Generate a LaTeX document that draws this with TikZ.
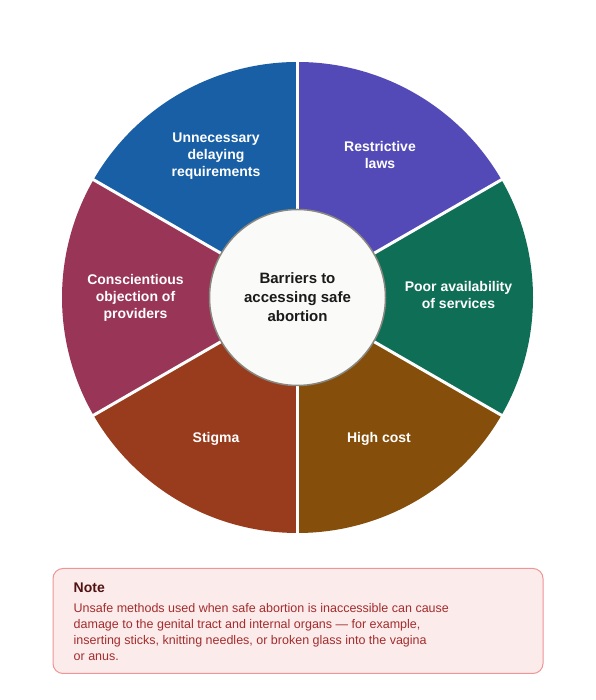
\documentclass[tikz,border=0pt]{standalone}
\usepackage{fontspec}
\setmainfont{Liberation Sans}
\usetikzlibrary{positioning}
\definecolor{lawscol}{HTML}{534AB7}
\definecolor{servicecol}{HTML}{0F6E56}
\definecolor{costcol}{HTML}{854F0B}
\definecolor{stigmacol}{HTML}{993C1D}
\definecolor{objectcol}{HTML}{993556}
\definecolor{delaycol}{HTML}{185FA5}
\definecolor{hubfill}{HTML}{FAFAF8}
\definecolor{hubline}{HTML}{888780}
\definecolor{hubtext}{HTML}{1A1A1A}
\definecolor{notefill}{HTML}{FCEBEB}
\definecolor{noteline}{HTML}{F09595}
\definecolor{notehead}{HTML}{501313}
\definecolor{notetext}{HTML}{A32D2D}

\begin{document}
\begin{tikzpicture}[x=1pt,y=1pt,
    seglabel/.style={text=white,align=center,font=\bfseries\fontsize{14}{17}\selectfont},
    hubcircle/.style={circle,draw=hubline,line width=1.5pt,fill=hubfill,minimum size=176pt,
                      inner sep=0pt,text=hubtext,align=center,font=\bfseries\fontsize{15}{19}\selectfont},
    notebox/.style={draw=noteline,line width=1pt,fill=notefill,rounded corners=10pt,
                    minimum width=490pt,minimum height=105pt,inner sep=0pt}]
  \fill[white] (0,0) rectangle (595,700);
  \useasboundingbox (0,0) rectangle (595,700);
  \coordinate (hub) at (297.5,402.5);

  % wheel segments
  \foreach \a/\c in {30/lawscol,-30/servicecol,-90/costcol,-150/stigmacol,150/objectcol,90/delaycol}
    \fill[\c] (hub) -- ++(\a:235.5) arc[start angle=\a,end angle=\a+60,radius=235.5] -- cycle;
  \foreach \a in {30,90,...,330}
    \draw[white,line width=3pt] (hub) -- ++(\a:237);

  \node[hubcircle] (centre) at (hub) {Barriers to\\accessing safe\\abortion};

  \node[seglabel] (laws) at ([shift={(60:165)}]hub) {Restrictive\\laws};
  \node[seglabel] (services) at ([shift={(1:161)}]hub) {Poor availability\\of services};
  \node[seglabel] (cost) at ([shift={(-60:163)}]hub) {High cost};
  \node[seglabel] (stigma) at ([shift={(-120:163)}]hub) {Stigma};
  \node[seglabel] (objection) at ([shift={(180:162)}]hub) {Conscientious\\objection of\\providers};
  \node[seglabel] (delay) at ([shift={(120:163)}]hub) {Unnecessary\\delaying\\requirements};

  % note
  \node[notebox,anchor=north west] (note) at (52.5,132) {};
  \node[anchor=base west,inner sep=0pt,text=notehead,font=\bfseries\fontsize{14}{17}\selectfont]
    (notetitle) at ([shift={(21,-25)}]note.north west) {Note};
  \node[anchor=north west,inner sep=0pt,text=notetext,align=left,font=\fontsize{12.5}{16}\selectfont]
    (notebody) at ([shift={(21,-35.5)}]note.north west)
    {Unsafe methods used when safe abortion is inaccessible can cause\\
     damage to the genital tract and internal organs — for example,\\
     inserting sticks, knitting needles, or broken glass into the vagina\\
     or anus.};
\end{tikzpicture}
\end{document}
